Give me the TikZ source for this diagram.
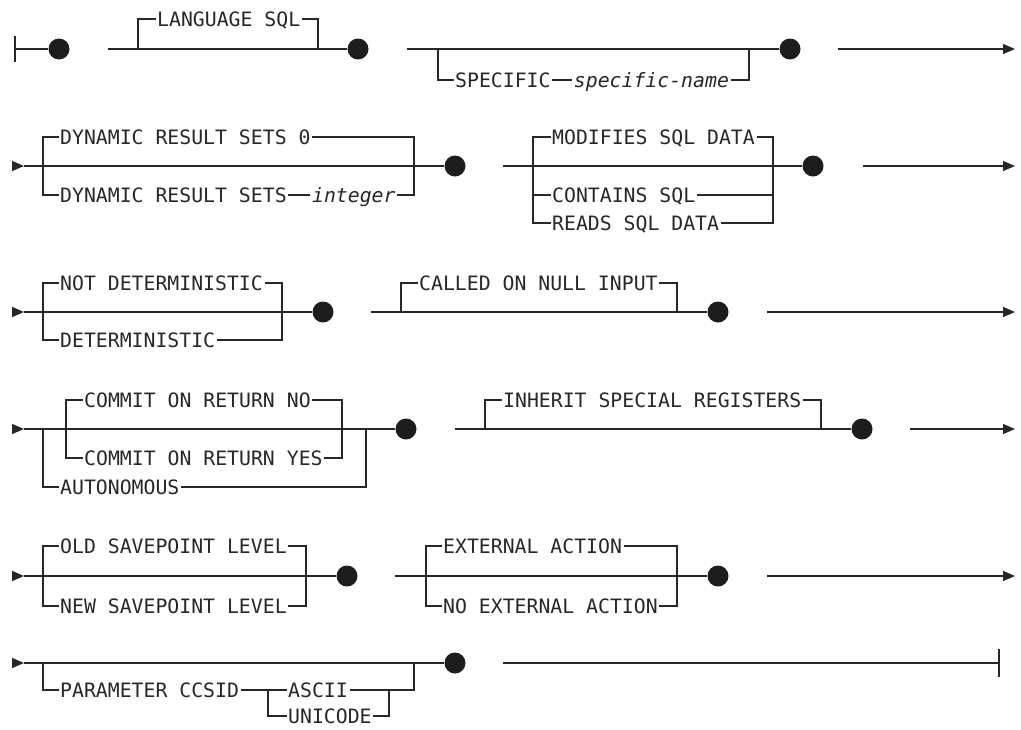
\documentclass[tikz,border=0pt]{standalone}
\usepackage{fontspec}
\usetikzlibrary{arrows.meta,positioning}
\newfontfamily\kwfont{DejaVu Sans Mono}
\newcommand\kwf{\kwfont\fontsize{19.8pt}{22pt}\selectfont}
\definecolor{ln}{RGB}{40,38,38}
\definecolor{dt}{RGB}{30,28,29}
\tikzset{
  rr/.style={line width=1.3pt, draw=ln},
  dot/.style={circle, fill=dt, draw=none, inner sep=0pt, minimum size=21pt},
  kw/.style={font=\kwf, text=ln, inner xsep=1.5pt, inner ysep=0pt, text height=14.4pt, text depth=0pt, anchor=west},
  arr/.style={rr, -{Triangle[length=12pt,width=10pt]}},
}
\begin{document}
\begin{tikzpicture}[x=1pt,y=-1pt]
\useasboundingbox (0,0) rectangle (1021,729);
% ---------- Row 1 ----------
\coordinate (s1) at (15,49);
\draw[rr] ([yshift=13pt]s1) -- ([yshift=-13pt]s1);
\node[dot] (d11) at (59,49) {};
\draw[rr] (s1) -- (d11);
\coordinate (a12) at (108,49);
\coordinate (j12l) at (138,49);
\coordinate (j12r) at (318,49);
\node[dot] (d12) at (358,49) {};
\node[kw] (lang) at (155.5,19) {LANGUAGE SQL};
\draw[rr] (a12) -- (d12);
\draw[rr] (j12l) |- (lang.west);
\draw[rr] (lang.east) -| (j12r);
\coordinate (a13) at (407,49);
\coordinate (j13l) at (438,49);
\coordinate (j13r) at (749,49);
\node[dot] (d13) at (790,49) {};
\node[kw] (spec) at (453.5,80) {SPECIFIC};
\node[kw, right=20pt of spec] (specn) {\itshape specific-name};
\draw[rr] (a13) -- (d13);
\draw[rr] (j13l) |- (spec.west);
\draw[rr] (spec.east) -- (specn.west);
\draw[rr] (specn.east) -| (j13r);
\coordinate (a14) at (838,49);
\coordinate (e1) at (1015,49);
\draw[arr] (a14) -- (e1);
% ---------- Row 2 ----------
\coordinate (s2) at (12,166);
\coordinate (s2t) at (24,166);
\draw[arr] (s2) -- (s2t);
\node[dot] (d21) at (455,166) {};
\draw[rr] (s2t) -- (d21);
\coordinate (j21l) at (43,166);
\coordinate (j21r) at (414,166);
\node[kw] (drs0) at (58.5,137) {DYNAMIC RESULT SETS 0};
\node[kw] (drs) at (58.5,195) {DYNAMIC RESULT SETS};
\node[kw, right=22pt of drs] (int) {\itshape integer};
\draw[rr] (j21l) |- (drs0.west);
\draw[rr] (drs0.east) -| (j21r);
\draw[rr] (j21l) |- (drs.west);
\draw[rr] (drs.east) -- (int.west);
\draw[rr] (int.east) -| (j21r);
\coordinate (a22) at (503,166);
\coordinate (j22l) at (533,166);
\coordinate (j22r) at (773,166);
\node[dot] (d22) at (813,166) {};
\draw[rr] (a22) -- (d22);
\node[kw] (mod) at (550.5,137) {MODIFIES SQL DATA};
\node[kw] (cont) at (550.5,195) {CONTAINS SQL};
\node[kw] (reads) at (550.5,223) {READS SQL DATA};
\draw[rr] (j22l) |- (mod.west);
\draw[rr] (mod.east) -| (j22r);
\draw[rr] (j22l) |- (cont.west);
\draw[rr] (cont.east) -| (j22r);
\draw[rr] (j22l) |- (reads.west);
\draw[rr] (reads.east) -| (j22r);
\coordinate (a23) at (863,166);
\coordinate (e2) at (1015,166);
\draw[arr] (a23) -- (e2);
% ---------- Row 3 ----------
\coordinate (s3) at (12,312);
\coordinate (s3t) at (24,312);
\draw[arr] (s3) -- (s3t);
\node[dot] (d31) at (323,312) {};
\draw[rr] (s3t) -- (d31);
\coordinate (j31l) at (43,312);
\coordinate (j31r) at (282,312);
\node[kw] (notdet) at (58.5,283) {NOT DETERMINISTIC};
\node[kw] (det) at (58.5,340) {DETERMINISTIC};
\draw[rr] (j31l) |- (notdet.west);
\draw[rr] (notdet.east) -| (j31r);
\draw[rr] (j31l) |- (det.west);
\draw[rr] (det.east) -| (j31r);
\coordinate (a32) at (371,312);
\coordinate (j32l) at (401,312);
\coordinate (j32r) at (677,312);
\node[dot] (d32) at (718,312) {};
\draw[rr] (a32) -- (d32);
\node[kw] (called) at (417.5,283) {CALLED ON NULL INPUT};
\draw[rr] (j32l) |- (called.west);
\draw[rr] (called.east) -| (j32r);
\coordinate (a33) at (767,312);
\coordinate (e3) at (1015,312);
\draw[arr] (a33) -- (e3);
% ---------- Row 4 ----------
\coordinate (s4) at (12,429);
\coordinate (s4t) at (24,429);
\draw[arr] (s4) -- (s4t);
\node[dot] (d41) at (406,429) {};
\draw[rr] (s4t) -- (d41);
\coordinate (j41l) at (43,429);
\coordinate (j41r) at (366,429);
\coordinate (j42l) at (66,429);
\coordinate (j42r) at (342,429);
\node[kw] (cno) at (82.5,400) {COMMIT ON RETURN NO};
\node[kw] (cyes) at (82.5,458) {COMMIT ON RETURN YES};
\node[kw] (auto) at (58.5,487) {AUTONOMOUS};
\draw[rr] (j42l) |- (cno.west);
\draw[rr] (cno.east) -| (j42r);
\draw[rr] (j42l) |- (cyes.west);
\draw[rr] (cyes.east) -| (j42r);
\draw[rr] (j41l) |- (auto.west);
\draw[rr] (auto.east) -| (j41r);
\coordinate (a42) at (455,429);
\coordinate (j43l) at (485,429);
\coordinate (j43r) at (821,429);
\node[dot] (d42) at (862,429) {};
\draw[rr] (a42) -- (d42);
\node[kw] (inh) at (501.5,400) {INHERIT SPECIAL REGISTERS};
\draw[rr] (j43l) |- (inh.west);
\draw[rr] (inh.east) -| (j43r);
\coordinate (a43) at (910,429);
\coordinate (e4) at (1015,429);
\draw[arr] (a43) -- (e4);
% ---------- Row 5 ----------
\coordinate (s5) at (12,576);
\coordinate (s5t) at (24,576);
\draw[arr] (s5) -- (s5t);
\node[dot] (d51) at (347,576) {};
\draw[rr] (s5t) -- (d51);
\coordinate (j51l) at (43,576);
\coordinate (j51r) at (306,576);
\node[kw] (old) at (58.5,546) {OLD SAVEPOINT LEVEL};
\node[kw] (new) at (58.5,606) {NEW SAVEPOINT LEVEL};
\draw[rr] (j51l) |- (old.west);
\draw[rr] (old.east) -| (j51r);
\draw[rr] (j51l) |- (new.west);
\draw[rr] (new.east) -| (j51r);
\coordinate (a52) at (395,576);
\coordinate (j52l) at (426,576);
\coordinate (j52r) at (677,576);
\node[dot] (d52) at (718,576) {};
\draw[rr] (a52) -- (d52);
\node[kw] (ext) at (441.5,546) {EXTERNAL ACTION};
\node[kw] (noext) at (441.5,606) {NO EXTERNAL ACTION};
\draw[rr] (j52l) |- (ext.west);
\draw[rr] (ext.east) -| (j52r);
\draw[rr] (j52l) |- (noext.west);
\draw[rr] (noext.east) -| (j52r);
\coordinate (a53) at (767,576);
\coordinate (e5) at (1015,576);
\draw[arr] (a53) -- (e5);
% ---------- Row 6 ----------
\coordinate (s6) at (12,663);
\coordinate (s6t) at (24,663);
\draw[arr] (s6) -- (s6t);
\node[dot] (d61) at (455,663) {};
\draw[rr] (s6t) -- (d61);
\coordinate (j61l) at (43,663);
\coordinate (j61r) at (414,663);
\node[kw] (param) at (58.5,690) {PARAMETER CCSID};
\coordinate (j62l) at (268,690);
\coordinate (j62r) at (389,690);
\node[kw] (ascii) at (286.5,690) {ASCII};
\node[kw] (uni) at (286.5,716) {UNICODE};
\draw[rr] (j61l) |- (param.west);
\draw[rr] (param.east) -- (j62l);
\draw[rr] (j62l) -- (ascii.west);
\draw[rr] (j62l) |- (uni.west);
\draw[rr] (ascii.east) -- (j62r);
\draw[rr] (uni.east) -| (j62r);
\draw[rr] (j62r) -| (j61r);
\coordinate (a62) at (503,663);
\coordinate (f6) at (999,663);
\draw[rr] (a62) -- (f6);
\draw[rr] ([yshift=14pt]f6) -- ([yshift=-14pt]f6);
\end{tikzpicture}
\end{document}
